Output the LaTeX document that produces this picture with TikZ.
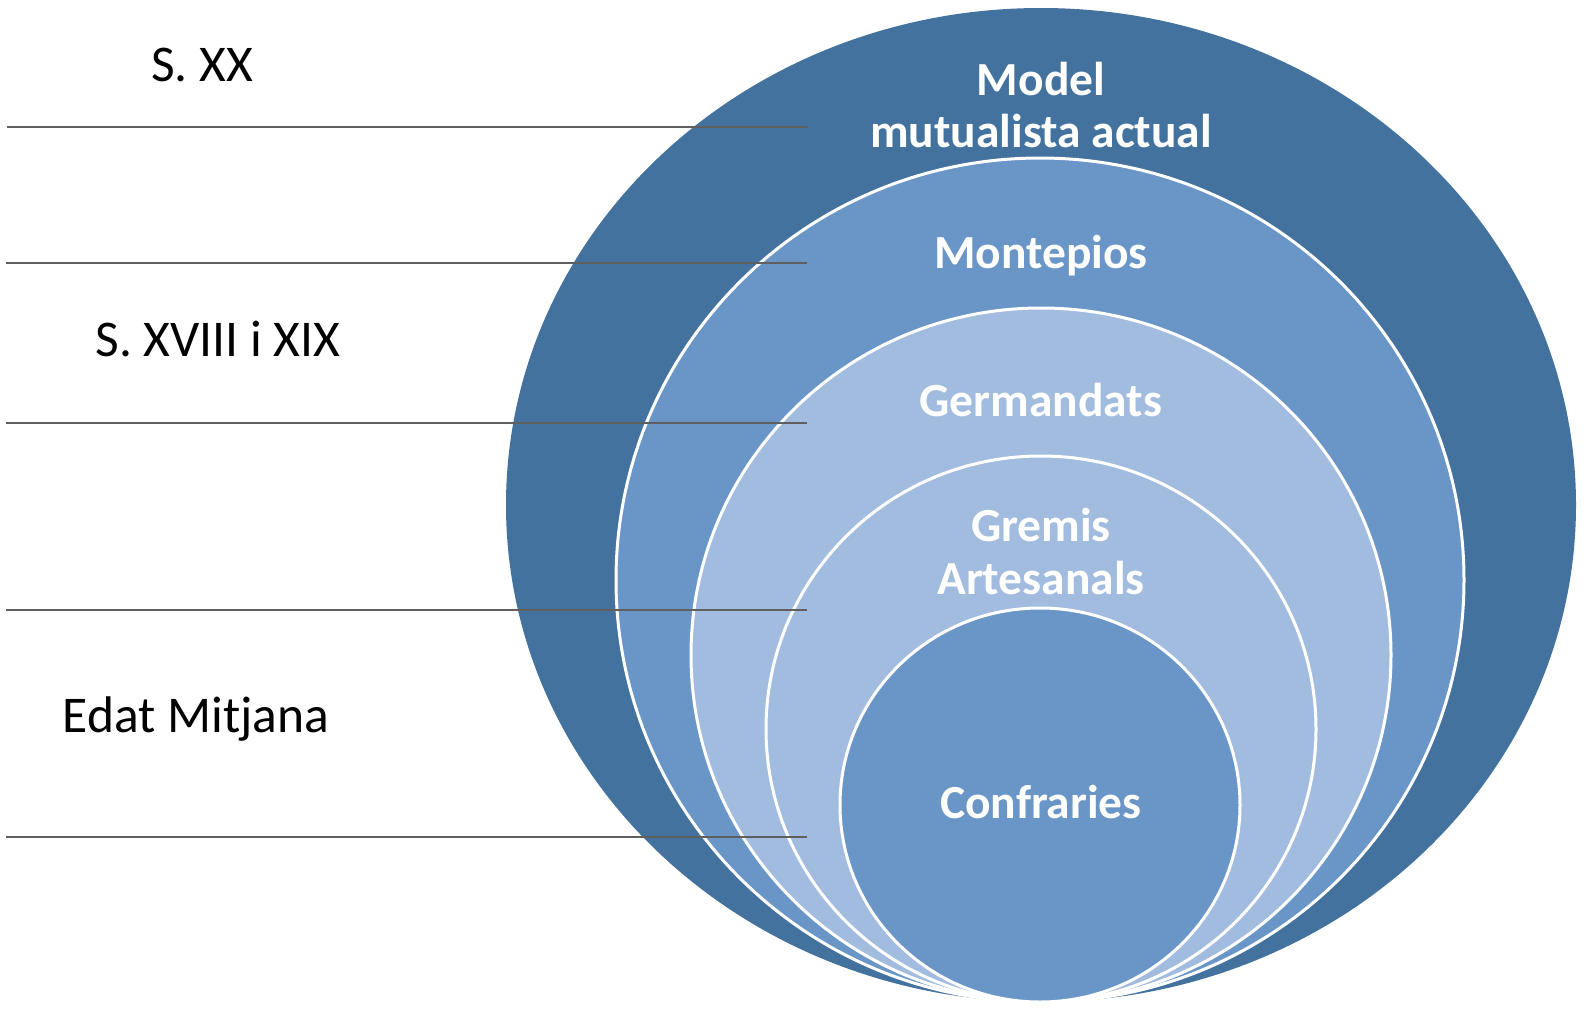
\documentclass[tikz,border=0pt]{standalone}
\usepackage{fontspec}
\setmainfont{Carlito}
\definecolor{cdark}{HTML}{42729D}
\definecolor{cmid}{HTML}{6996C7}
\definecolor{clight}{HTML}{A2BCDF}
\definecolor{cline}{HTML}{5F5F5F}
\tikzset{
  ring/.style={fill=#1, draw=white, line width=3pt},
  lbl/.style={anchor=base, inner sep=0pt, text=white, font=\fontsize{47.5}{52}\selectfont\bfseries},
  era/.style={anchor=base, inner sep=0pt, text=black, font=\fontsize{51.5}{56}\selectfont},
  sep/.style={draw=cline, line width=1.3pt}
}
\begin{document}
\begin{tikzpicture}[x=1pt,y=-1pt]
\useasboundingbox (0,0) rectangle (1588,1009);
\fill[cdark] (1041,505) ellipse [x radius=535pt, y radius=497pt];
\path[ring=cmid] (1040,580) ellipse [x radius=424pt, y radius=422pt];
\path[ring=clight] (1041,655) ellipse [x radius=350pt, y radius=347pt];
\path[ring=clight] (1041,729) ellipse [x radius=275pt, y radius=273pt];
\path[ring=cmid] (1040,805) ellipse [x radius=200pt, y radius=197pt];

\node[lbl] (t1a) at (1041,95) {Model};
\node[lbl] (t1b) at (1041,147) {mutualista actual};
\node[lbl] (t2) at (1041,268) {Montepios};
\node[lbl] (t3) at (1041,416) {Germandats};
\node[lbl] (t4a) at (1041,541) {Gremis};
\node[lbl] (t4b) at (1041,594) {Artesanals};
\node[lbl] (t5) at (1041,818) {Confraries};

\node[era] (e1) at (202,81) {S. XX};
\node[era] (e2) at (218,356) {S. XVIII i XIX};
\node[era] (e3) at (196,732) {Edat Mitjana};

\coordinate (a1) at (7,127);   \coordinate (b1) at (808,127);
\coordinate (a2) at (6,263);   \coordinate (b2) at (807,263);
\coordinate (a3) at (6,423);   \coordinate (b3) at (807,423);
\coordinate (a4) at (6,610);   \coordinate (b4) at (807,610);
\coordinate (a5) at (6,837);   \coordinate (b5) at (807,837);
\draw[sep] (a1) -- (b1);
\draw[sep] (a2) -- (b2);
\draw[sep] (a3) -- (b3);
\draw[sep] (a4) -- (b4);
\draw[sep] (a5) -- (b5);
\end{tikzpicture}
\end{document}
